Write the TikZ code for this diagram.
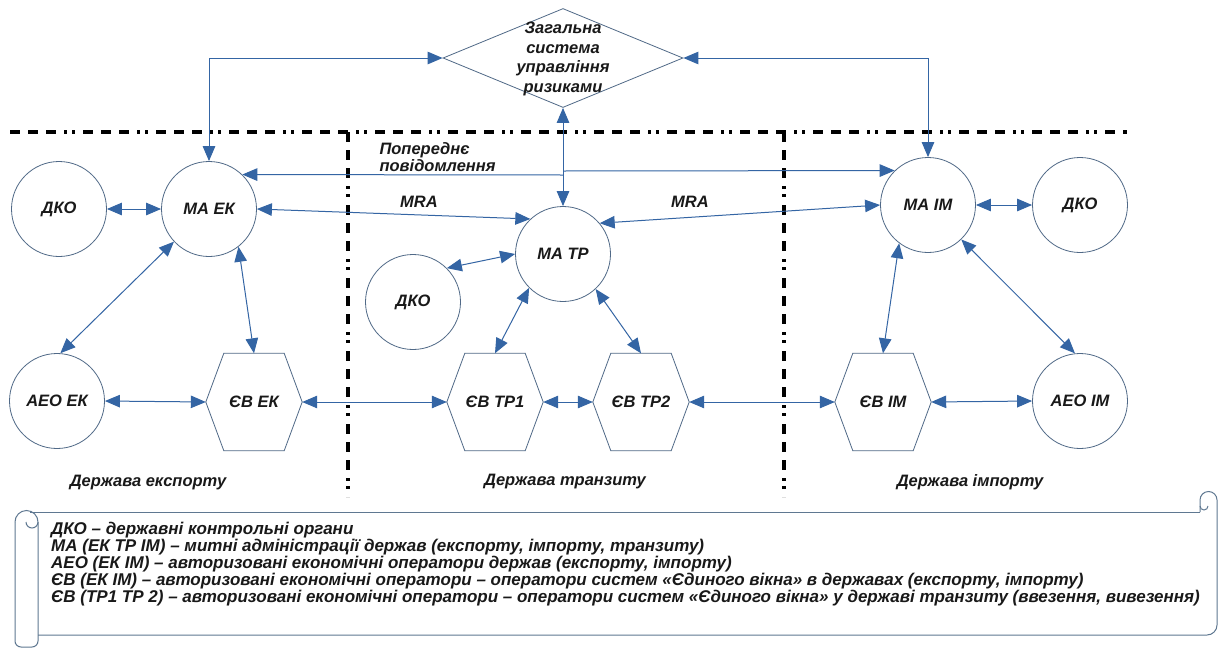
\documentclass[tikz,border=0pt]{standalone}
\usepackage{fontspec}
\setmainfont{Liberation Sans}
\usetikzlibrary{arrows.meta,shapes.geometric,calc}
\definecolor{conn}{RGB}{52,101,164}
\definecolor{shapeedge}{RGB}{80,105,135}
\definecolor{scrolledge}{RGB}{95,120,145}
\definecolor{txt}{RGB}{25,25,25}
\newcommand{\hexdraw}[1]{\draw[draw=shapeedge, line width=0.8pt] (#1.west) -- ([xshift=18pt]#1.north west) -- ([xshift=-18pt]#1.north east) -- (#1.east) -- ([xshift=-18pt]#1.south east) -- ([xshift=18pt]#1.south west) -- cycle;}
\begin{document}
\begin{tikzpicture}[x=1pt,y=-1pt,
  every node/.style={font=\fontsize{16.5}{19}\selectfont\bfseries\itshape, text=txt},
  circ/.style={circle, draw=shapeedge, line width=0.8pt, minimum size=95pt, inner sep=0pt},
  hexbox/.style={rectangle, minimum width=96pt, minimum height=97pt, inner sep=0pt},
  link/.style={draw=conn, line width=1pt, {Triangle[length=15pt,width=12.5pt]}-{Triangle[length=15pt,width=12.5pt]}},
  onelink/.style={draw=conn, line width=1pt, -{Triangle[length=15pt,width=12.5pt]}},
  border/.style={line width=4.5pt, black, dash pattern=on 10pt off 8pt on 10pt off 8pt on 10pt off 8pt on 3pt off 5pt on 3pt off 8pt},
  lbl/.style={font=\fontsize{16.5}{17.5}\selectfont\bfseries\itshape}
]
\useasboundingbox[fill=white] (0,0) rectangle (1221,651);

% borders
\draw[border] (10,132) -- (1127,132);
\draw[border] (348,132) -- (348,497);
\draw[border] (784,132) -- (784,497);

% risk diamond
\node[diamond, draw=shapeedge, line width=0.8pt, minimum width=240pt, minimum height=99pt, inner sep=0pt] (risk) at (563,58) {};
\node[align=center, font=\fontsize{16.5}{19.5}\selectfont\bfseries\itshape] (risktext) at (563,59) {Загальна\\система\\управління\\ризиками};

% circles
\node[circ] (dko1) at (59,209) {ДКО};
\node[circ] (maek) at (209,209) {МА ЕК};
\node[circ] (matp) at (563,254) {МА ТР};
\node[circ] (dko2) at (413,302) {ДКО};
\node[circ] (maim) at (928,205) {МА ІМ};
\node[circ] (dko3) at (1080,205) {ДКО};
\node[circ] (aeoek) at (57,401) {АЕО ЕК};
\node[circ] (aeoim) at (1080,401) {АЕО ІМ};

% hexagons
\node[hexbox] (evek) at (254,402) {ЄВ ЕК};
\node[hexbox] (tp1) at (495,402) {ЄВ ТР1};
\node[hexbox] (tp2) at (641,402) {ЄВ ТР2};
\node[hexbox] (evim) at (883,402) {ЄВ ІМ};
\hexdraw{evek}
\hexdraw{tp1}
\hexdraw{tp2}
\hexdraw{evim}

% labels
\node[lbl, anchor=west, align=left] (pp) at (376,157) {Попереднє\\повідомлення};
\node[lbl] (mra1) at (419,202) {MRA};
\node[lbl] (mra2) at (690,202) {MRA};
\node[lbl] (st1) at (148,483) {Держава експорту};
\node[lbl] (st2) at (565,482) {Держава транзиту};
\node[lbl] (st3) at (970,482) {Держава імпорту};

% connectors
\draw[link] (risk.west) -| (maek.north);
\draw[link] (risk.east) -| (maim.north);
\draw[link] (risk.south) -- (matp.north);
\coordinate (pj1) at (563,175);
\coordinate (pj2) at (563,171);
\draw[onelink] (pj1) -- (maek.46);
\draw[onelink] (pj2) -- (maim.134);
\draw[link] (dko1.east) -- (maek.west);
\draw[link] (maek.east) -- (matp.133);
\draw[link] (matp.40) -- (maim.west);
\draw[link] (maim.east) -- (dko3.west);
\draw[link] (matp.west) -- (dko2.45);
\draw[link] (maek.223) -- (aeoek.86);
\draw[link] (maek.308) -- (evek.north);
\draw[link] (matp.225) -- (tp1.north);
\draw[link] (matp.313) -- (tp2.north);
\draw[link] (maim.233) -- (evim.north);
\draw[link] (maim.314) -- (aeoim.96);
\draw[link] (aeoek.east) -- (evek.west);
\draw[link] (evek.east) -- (tp1.west);
\draw[link] (tp1.east) -- (tp2.west);
\draw[link] (tp2.east) -- (evim.west);
\draw[link] (evim.east) -- (aeoim.west);

% scroll
\begin{scope}[draw=scrolledge, line width=1pt]
\draw (30,512) -- (1200,512);
\draw (1200,512) -- (1200,500) arc[start angle=180, end angle=360, radius=8.5] -- (1217,625) arc[start angle=0, end angle=90, radius=10] -- (38,635);
\draw (1200,506) arc[start angle=180, end angle=0, radius=4];
\draw[rounded corners=6pt] (15,522) -- (15,647) -- (38,647) -- (38,522);
\draw (15,522) arc[start angle=180, end angle=360, radius=11.5];
\draw (38,522) arc[start angle=0, end angle=180, radius=6];
\end{scope}
\node[anchor=north west, align=left, inner sep=0pt, font=\fontsize{17}{17}\selectfont\bfseries\itshape] (legend) at (51,522) {ДКО – державні контрольні органи\\
МА (ЕК ТР ІМ) – митні адміністрації держав (експорту, імпорту, транзиту)\\
АЕО (ЕК ІМ) – авторизовані економічні оператори держав (експорту, імпорту)\\
ЄВ (ЕК ІМ) – авторизовані економічні оператори – оператори систем «Єдиного вікна» в державах (експорту, імпорту)\\
ЄВ (ТР1 ТР 2) – авторизовані економічні оператори – оператори систем «Єдиного вікна» у державі транзиту (ввезення, вивезення)};
\end{tikzpicture}
\end{document}
